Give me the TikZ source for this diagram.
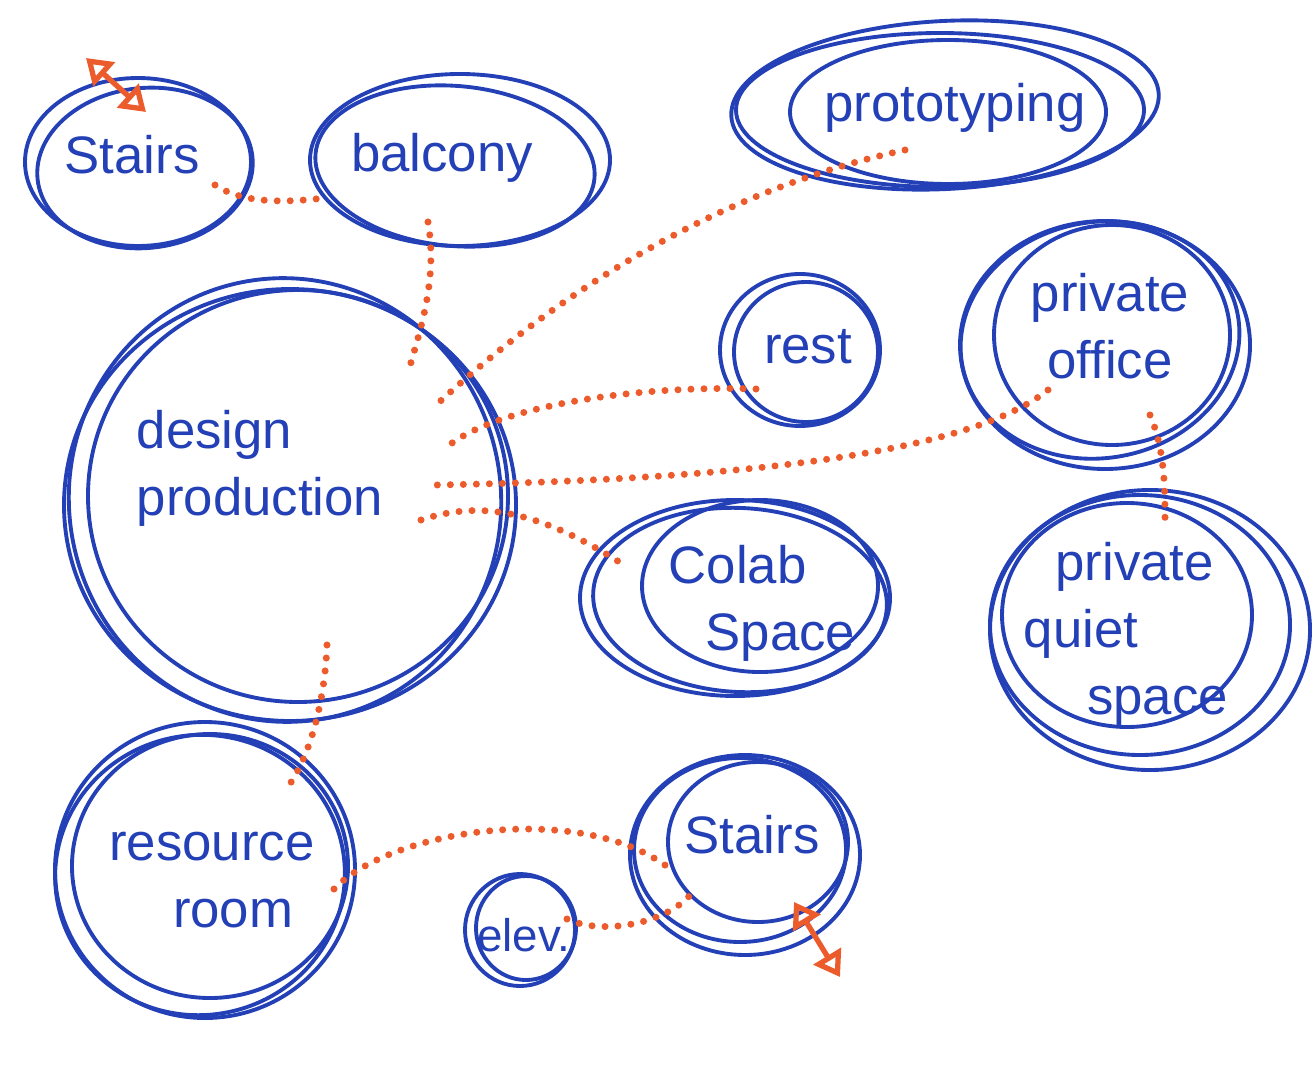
\documentclass[tikz,border=0pt]{standalone}
\usepackage{fontspec}
\setmainfont{Liberation Sans}
\usepackage{tikz}
\usetikzlibrary{arrows.meta}

\definecolor{penblue}{HTML}{2440B6}
\definecolor{penorange}{HTML}{EC5B2C}

\begin{document}
\begin{tikzpicture}[
    x=0.01cm, y=-0.01cm,
    every node/.style={font=\fontsize{15}{19}\selectfont, text=penblue},
    ring/.style={draw=penblue, line width=1.1pt},
    lbl/.style={align=center, inner sep=1pt},
    dots/.style={draw=penorange, line width=2pt, line cap=round, dash pattern=on 0pt off 3.7pt},
    updown/.style={draw=penorange, line width=1.5pt, {Triangle[open,length=7pt,width=9pt]}-{Triangle[open,length=7pt,width=9pt]}},
]
\useasboundingbox (0,0) rectangle (1316,1082);

% bubble outlines (sketchy double rings)
\draw[ring] (138,162) ellipse [x radius=113, y radius=84];
\draw[ring,rotate around={6:(145,168)}] (145,168) ellipse [x radius=108, y radius=80];

\draw[ring] (460,160) ellipse [x radius=150, y radius=86];
\draw[ring,rotate around={-5:(455,166)}] (455,166) ellipse [x radius=140, y radius=80];

\draw[ring,rotate around={3:(945,105)}] (945,105) ellipse [x radius=214, y radius=84];
\draw[ring] (940,110) ellipse [x radius=204, y radius=77];
\draw[ring] (948,112) ellipse [x radius=158, y radius=72];

\draw[ring] (290,505) ellipse [x radius=226, y radius=216];
\draw[ring,rotate around={10:(285,500)}] (285,500) ellipse [x radius=216, y radius=222];
\draw[ring] (298,496) ellipse [x radius=210, y radius=206];

\draw[ring] (800,350) ellipse [x radius=80, y radius=76];
\draw[ring] (806,352) ellipse [x radius=72, y radius=70];

\draw[ring] (1105,345) ellipse [x radius=145, y radius=124];
\draw[ring,rotate around={10:(1100,340)}] (1100,340) ellipse [x radius=140, y radius=118];
\draw[ring] (1112,335) ellipse [x radius=118, y radius=110];

\draw[ring] (735,598) ellipse [x radius=155, y radius=98];
\draw[ring,rotate around={-3:(740,600)}] (740,600) ellipse [x radius=147, y radius=92];
\draw[ring] (760,586) ellipse [x radius=118, y radius=86];

\draw[ring] (1150,630) ellipse [x radius=160, y radius=140];
\draw[ring] (1140,625) ellipse [x radius=150, y radius=130];
\draw[ring] (1127,615) ellipse [x radius=125, y radius=112];

\draw[ring] (205,870) ellipse [x radius=150, y radius=148];
\draw[ring,rotate around={10:(200,875)}] (200,875) ellipse [x radius=145, y radius=140];
\draw[ring] (210,866) ellipse [x radius=138, y radius=132];

\draw[ring] (520,930) ellipse [x radius=55, y radius=56];
\draw[ring] (526,928) ellipse [x radius=50, y radius=52];

\draw[ring] (745,855) ellipse [x radius=115, y radius=100];
\draw[ring] (740,850) ellipse [x radius=106, y radius=92];
\draw[ring] (758,842) ellipse [x radius=90, y radius=80];

% labels
\node[lbl] (stairsTop) at (132,155) {Stairs};
\node[lbl] (balcony) at (442,158) {balcony};
\node[lbl] (proto) at (955,108) {prototyping};
\node[lbl, align=left] (design) at (260,468) {design\\production};
\node[lbl] (rest) at (808,347) {rest};
\node[lbl] (office) at (1110,326) {private\\office};
\node[lbl, align=left] (colab) at (762,603) {Colab\\\hspace{0.7em}Space};
\node[lbl, align=left] (quiet) at (1126,634) {\hspace{0.6em}private\\quiet\\\hspace{1.2em}space};
\node[lbl] (resource) at (212,880) {resource\\\hspace{0.8em}room};
\node[lbl, font=\fontsize{13}{16}\selectfont] (elev) at (524,935) {elev.};
\node[lbl] (stairsLow) at (752,835) {Stairs};

% connector ends
\coordinate (stT-e) at (215,185);
\coordinate (bal-w) at (325,198);
\coordinate (bal-s) at (428,222);
\coordinate (dp-n) at (408,373);
\coordinate (pro-s) at (905,150);
\coordinate (dp-ne) at (434,407);
\coordinate (rest-w) at (756,389);
\coordinate (dp-e1) at (448,446);
\coordinate (off-sw) at (1048,390);
\coordinate (dp-e2) at (436,485);
\coordinate (dp-e3) at (421,520);
\coordinate (col-nw) at (627,567);
\coordinate (off-s) at (1150,415);
\coordinate (qui-n) at (1165,520);
\coordinate (dp-s) at (327,645);
\coordinate (res-n) at (284,792);
\coordinate (res-e) at (334,889);
\coordinate (stL-w) at (669,868);
\coordinate (elev-e) at (567,919);
\coordinate (stL-sw) at (691,894);

% dotted links
\draw[dots] (stT-e) .. controls (245,205) and (290,202) .. (bal-w);
\draw[dots] (bal-s) .. controls (438,280) and (420,330) .. (dp-n);
\draw[dots] (pro-s) .. controls (720,190) and (560,290) .. (dp-ne);
\draw[dots] (rest-w) .. controls (640,385) and (500,405) .. (dp-e1);
\draw[dots] (off-sw) .. controls (960,460) and (700,480) .. (dp-e2);
\draw[dots] (dp-e3) .. controls (480,500) and (540,510) .. (col-nw);
\draw[dots] (off-s) .. controls (1165,450) and (1165,490) .. (qui-n);
\draw[dots] (dp-s) .. controls (325,700) and (310,760) .. (res-n);
\draw[dots] (res-e) .. controls (390,830) and (580,800) .. (stL-w);
\draw[dots] (elev-e) .. controls (600,935) and (665,925) .. (stL-sw);

% up/down arrows for stairs
\coordinate (arTop-a) at (86,58);
\coordinate (arTop-b) at (146,112);
\coordinate (arLow-a) at (794,902);
\coordinate (arLow-b) at (840,977);
\draw[updown] (arTop-a) -- (arTop-b);
\draw[updown] (arLow-a) -- (arLow-b);
\end{tikzpicture}
\end{document}
